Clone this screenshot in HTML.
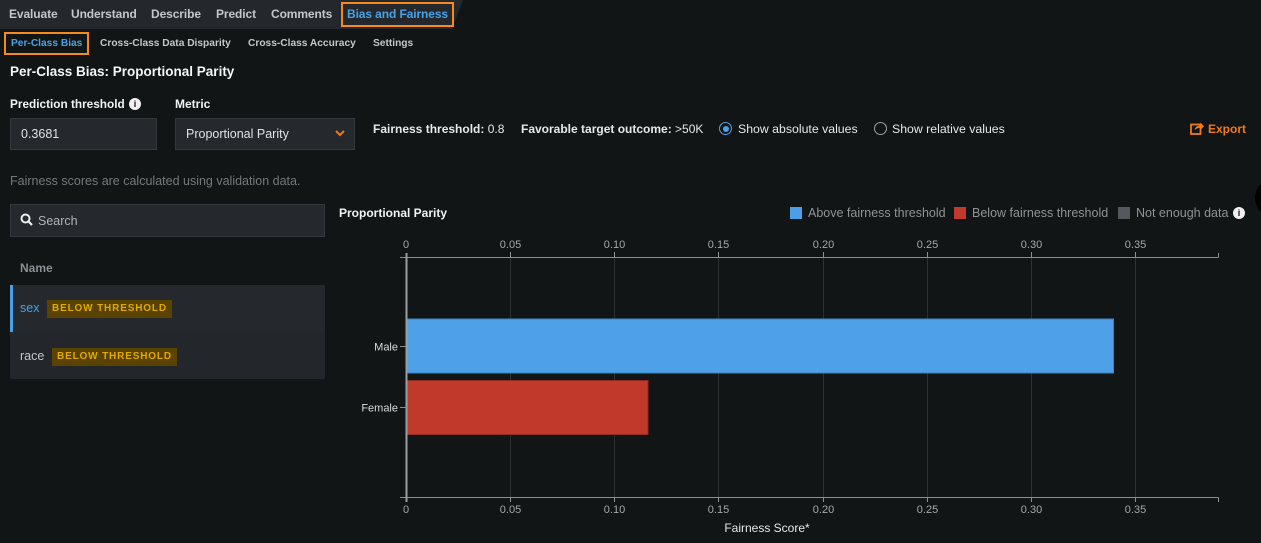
<!DOCTYPE html>
<html><head><meta charset="utf-8">
<style>
*{margin:0;padding:0;box-sizing:border-box}
body{width:1261px;height:543px;background:#111516;font-family:"Liberation Sans",sans-serif;color:#e6e8ea;position:relative;overflow:hidden}
.a{position:absolute;white-space:nowrap}
.nav{font-size:12px;font-weight:bold;color:#c4c7ca;top:7px;letter-spacing:-0.1px}
.sub{font-size:10.2px;font-weight:bold;color:#c4c7ca;top:38px}
.lbl{font-size:12px;font-weight:bold;color:#f0f2f4}
.box{position:absolute;background:#25292d;border:1px solid #33383c}
.badge{position:absolute;background:#5a4300;color:#e0a800;font-size:10px;font-weight:bold;letter-spacing:0.85px;padding:3px 5px;height:18px;line-height:12px}
.leg{font-size:12.5px;color:#8e9397;top:206px}
.sq{position:absolute;width:12px;height:12px;top:207px}
</style></head><body>
<svg class="a" style="left:0;top:0" width="470" height="29"><polygon points="0,0 463,0 452,29 0,29" fill="#24282c"/></svg>
<div class="a nav" style="left:9px">Evaluate</div>
<div class="a nav" style="left:71px">Understand</div>
<div class="a nav" style="left:151px">Describe</div>
<div class="a nav" style="left:216px">Predict</div>
<div class="a nav" style="left:271px">Comments</div>
<div class="a nav" style="left:347px;color:#4aa0e6">Bias and Fairness</div>
<div class="a" style="left:341px;top:2px;width:113px;height:25px;border:2px solid #f58a1f"></div>

<div class="a sub" style="left:11px;color:#4aa0e6">Per-Class Bias</div>
<div class="a" style="left:4px;top:32px;width:85px;height:23px;border:2px solid #f58a1f"></div>
<div class="a sub" style="left:100px">Cross-Class Data Disparity</div>
<div class="a sub" style="left:248px">Cross-Class Accuracy</div>
<div class="a sub" style="left:373px">Settings</div>

<div class="a" style="left:10px;top:64px;font-size:13.5px;font-weight:bold;color:#f4f5f6">Per-Class Bias: Proportional Parity</div>

<div class="a lbl" style="left:10px;top:97px;font-size:11.8px">Prediction threshold</div>
<div class="a" style="left:129px;top:98px;width:12px;height:12px;border-radius:50%;background:#f0f0f0;color:#111;font-size:9px;font-weight:bold;text-align:center;line-height:12px">i</div>
<div class="a lbl" style="left:175px;top:97px">Metric</div>
<div class="box" style="left:10px;top:118px;width:147px;height:32px"></div>
<div class="a" style="left:21px;top:127px;font-size:12.5px;color:#e0e2e4">0.3681</div>
<div class="box" style="left:175px;top:118px;width:180px;height:32px"></div>
<div class="a" style="left:186px;top:127px;font-size:12.5px;color:#e0e2e4">Proportional Parity</div>
<svg class="a" style="left:334px;top:129px" width="12" height="9"><polyline points="2,2 6,6 10,2" fill="none" stroke="#f07a1a" stroke-width="2"/></svg>

<div class="a" style="left:373px;top:122px;font-size:12px;color:#e6e8ea"><b>Fairness threshold:</b> 0.8</div>
<div class="a" style="left:521px;top:122px;font-size:12px;color:#e6e8ea"><b>Favorable target outcome:</b> &gt;50K</div>
<div class="a" style="left:719px;top:122px;width:13px;height:13px;border-radius:50%;border:1.5px solid #4aa0e6"></div>
<div class="a" style="left:722.5px;top:125.5px;width:6px;height:6px;border-radius:50%;background:#4aa0e6"></div>
<div class="a" style="left:738px;top:122px;font-size:12.3px;color:#e6e8ea">Show absolute values</div>
<div class="a" style="left:874px;top:122px;width:13px;height:13px;border-radius:50%;border:1.5px solid #9a9ea2"></div>
<div class="a" style="left:892px;top:122px;font-size:12.3px;color:#e6e8ea">Show relative values</div>
<svg class="a" style="left:1190px;top:121px" width="14" height="14"><rect x="1" y="3.5" width="9.5" height="9.5" fill="none" stroke="#f07a1a" stroke-width="1.8"/><path d="M4.5 9 Q5.5 4.5 10.5 4.5 L10.5 1.5 L14 5.2 L10.5 9 L10.5 6.8 Q7.5 6.8 4.5 9Z" fill="#f07a1a"/></svg>
<div class="a" style="left:1208px;top:122px;font-size:12px;font-weight:bold;color:#f07a1a">Export</div>

<div class="a" style="left:10px;top:174px;font-size:12.5px;color:#74797d">Fairness scores are calculated using validation data.</div>

<div class="box" style="left:10px;top:204px;width:315px;height:33px"></div>
<svg class="a" style="left:20px;top:213px" width="14" height="14"><circle cx="5.5" cy="5.5" r="4" fill="none" stroke="#eee" stroke-width="2"/><line x1="8.5" y1="8.5" x2="12" y2="12" stroke="#eee" stroke-width="2.2"/></svg>
<div class="a" style="left:38px;top:214px;font-size:12.5px;color:#b0b4b8">Search</div>

<div class="a" style="left:20px;top:261px;font-size:12px;font-weight:bold;color:#8a8f93">Name</div>
<div class="a" style="left:10px;top:285px;width:315px;height:47px;background:#25292d"></div>
<div class="a" style="left:10px;top:285px;width:3px;height:47px;background:#4aa0e6"></div>
<div class="a" style="left:20px;top:301px;font-size:12.5px;color:#4aa0e6">sex</div>
<div class="badge" style="left:47px;top:300px">BELOW THRESHOLD</div>
<div class="a" style="left:10px;top:332px;width:315px;height:47px;background:#23272b"></div>
<div class="a" style="left:20px;top:349px;font-size:12.5px;color:#c4c7ca">race</div>
<div class="badge" style="left:52px;top:348px">BELOW THRESHOLD</div>

<div class="a" style="left:339px;top:206px;font-size:12px;font-weight:bold;color:#f0f2f4">Proportional Parity</div>
<div class="sq" style="left:790px;background:#4aa0e6"></div>
<div class="a leg" style="left:808px">Above fairness threshold</div>
<div class="sq" style="left:954px;background:#c0392b"></div>
<div class="a leg" style="left:972px">Below fairness threshold</div>
<div class="sq" style="left:1118px;background:#55595d"></div>
<div class="a leg" style="left:1136px">Not enough data</div>
<div class="a" style="left:1233px;top:207px;width:12px;height:12px;border-radius:50%;background:#f0f0f0;color:#111;font-size:9px;font-weight:bold;text-align:center;line-height:12px">i</div>

<svg class="a" style="left:0;top:0" width="1261" height="543">
<g stroke="#2c3134" stroke-width="1">
<line x1="510.5" y1="257" x2="510.5" y2="497"/>
<line x1="614.5" y1="257" x2="614.5" y2="497"/>
<line x1="718.5" y1="257" x2="718.5" y2="497"/>
<line x1="823.5" y1="257" x2="823.5" y2="497"/>
<line x1="927.5" y1="257" x2="927.5" y2="497"/>
<line x1="1031.5" y1="257" x2="1031.5" y2="497"/>
<line x1="1135.5" y1="257" x2="1135.5" y2="497"/>
</g>
<rect x="407" y="319" width="706.5" height="54" fill="#4ea1e6" stroke="#3a82c0" stroke-width="1"/>
<rect x="407" y="380.5" width="241" height="54" fill="#c0392b" stroke="#8e2a20" stroke-width="1"/>
<g stroke="#8a8f93" stroke-width="1" fill="none">
<line x1="400" y1="257.5" x2="1218.5" y2="257.5"/>
<line x1="400" y1="497.5" x2="1218.5" y2="497.5"/>
<line x1="1218.5" y1="253" x2="1218.5" y2="257.5"/>
<line x1="1218.5" y1="497.5" x2="1218.5" y2="502"/>
<line x1="400" y1="346.5" x2="406" y2="346.5"/>
<line x1="400" y1="407.5" x2="406" y2="407.5"/>
</g>
<line x1="406.5" y1="253" x2="406.5" y2="502" stroke="#9a9ea2" stroke-width="2"/>
<g stroke="#8a8f93" stroke-width="1">
<line x1="510.5" y1="252" x2="510.5" y2="257"/><line x1="614.5" y1="252" x2="614.5" y2="257"/><line x1="718.5" y1="252" x2="718.5" y2="257"/><line x1="823.5" y1="252" x2="823.5" y2="257"/><line x1="927.5" y1="252" x2="927.5" y2="257"/><line x1="1031.5" y1="252" x2="1031.5" y2="257"/><line x1="1135.5" y1="252" x2="1135.5" y2="257"/>
<line x1="510.5" y1="497" x2="510.5" y2="502"/><line x1="614.5" y1="497" x2="614.5" y2="502"/><line x1="718.5" y1="497" x2="718.5" y2="502"/><line x1="823.5" y1="497" x2="823.5" y2="502"/><line x1="927.5" y1="497" x2="927.5" y2="502"/><line x1="1031.5" y1="497" x2="1031.5" y2="502"/><line x1="1135.5" y1="497" x2="1135.5" y2="502"/>
</g>
<g font-family="Liberation Sans, sans-serif" font-size="11" fill="#a4a8ac" text-anchor="middle">
<text x="406" y="248">0</text><text x="510.5" y="248">0.05</text><text x="614.5" y="248">0.10</text><text x="718.5" y="248">0.15</text><text x="823.5" y="248">0.20</text><text x="927.5" y="248">0.25</text><text x="1031.5" y="248">0.30</text><text x="1135.5" y="248">0.35</text>
<text x="406" y="513">0</text><text x="510.5" y="513">0.05</text><text x="614.5" y="513">0.10</text><text x="718.5" y="513">0.15</text><text x="823.5" y="513">0.20</text><text x="927.5" y="513">0.25</text><text x="1031.5" y="513">0.30</text><text x="1135.5" y="513">0.35</text>
</g>
<g font-family="Liberation Sans, sans-serif" font-size="11" fill="#d8dadc" text-anchor="end">
<text x="398" y="350.5">Male</text><text x="398" y="411.5">Female</text>
</g>
<text x="767" y="532" font-family="Liberation Sans, sans-serif" font-size="12" fill="#e6e8ea" text-anchor="middle">Fairness Score*</text>
<circle cx="1275" cy="198" r="20" fill="#000"/>
</svg>
</body></html>
